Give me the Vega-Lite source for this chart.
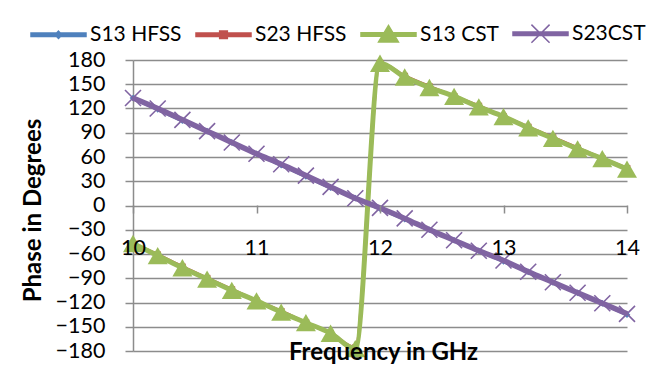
{
  "$schema": "https://vega.github.io/schema/vega-lite/v6.json",
  "width": 494,
  "height": 291,
  "autosize": {"type": "none"},
  "padding": {"left": 133, "top": 60, "right": 24, "bottom": 14},
  "background": "white",
  "config": {"view": {"stroke": null}, "font": "Lato"},
  "datasets": {
    "pts": [
      {"freq": 10.0, "series": "S13 CST", "phase": -47},
      {"freq": 10.2, "series": "S13 CST", "phase": -62},
      {"freq": 10.4, "series": "S13 CST", "phase": -77},
      {"freq": 10.6, "series": "S13 CST", "phase": -91},
      {"freq": 10.8, "series": "S13 CST", "phase": -105},
      {"freq": 11.0, "series": "S13 CST", "phase": -118},
      {"freq": 11.2, "series": "S13 CST", "phase": -132},
      {"freq": 11.4, "series": "S13 CST", "phase": -145},
      {"freq": 11.6, "series": "S13 CST", "phase": -158},
      {"freq": 11.8, "series": "S13 CST", "phase": -177},
      {"freq": 12.0, "series": "S13 CST", "phase": 176},
      {"freq": 12.2, "series": "S13 CST", "phase": 159},
      {"freq": 12.4, "series": "S13 CST", "phase": 146},
      {"freq": 12.6, "series": "S13 CST", "phase": 135},
      {"freq": 12.8, "series": "S13 CST", "phase": 122},
      {"freq": 13.0, "series": "S13 CST", "phase": 110},
      {"freq": 13.2, "series": "S13 CST", "phase": 96},
      {"freq": 13.4, "series": "S13 CST", "phase": 83},
      {"freq": 13.6, "series": "S13 CST", "phase": 70},
      {"freq": 13.8, "series": "S13 CST", "phase": 58},
      {"freq": 14.0, "series": "S13 CST", "phase": 45},
      {"freq": 10.0, "series": "S23 HFSS", "phase": -47},
      {"freq": 10.2, "series": "S23 HFSS", "phase": -61},
      {"freq": 10.4, "series": "S23 HFSS", "phase": -76},
      {"freq": 10.6, "series": "S23 HFSS", "phase": -90},
      {"freq": 10.8, "series": "S23 HFSS", "phase": -104},
      {"freq": 11.0, "series": "S23 HFSS", "phase": -118},
      {"freq": 11.2, "series": "S23 HFSS", "phase": -131},
      {"freq": 11.4, "series": "S23 HFSS", "phase": -145},
      {"freq": 11.6, "series": "S23 HFSS", "phase": -158},
      {"freq": 11.8, "series": "S23 HFSS", "phase": -176},
      {"freq": 12.0, "series": "S23 HFSS", "phase": 176},
      {"freq": 12.2, "series": "S23 HFSS", "phase": 160},
      {"freq": 12.4, "series": "S23 HFSS", "phase": 147},
      {"freq": 12.6, "series": "S23 HFSS", "phase": 135},
      {"freq": 12.8, "series": "S23 HFSS", "phase": 123},
      {"freq": 13.0, "series": "S23 HFSS", "phase": 110},
      {"freq": 13.2, "series": "S23 HFSS", "phase": 97},
      {"freq": 13.4, "series": "S23 HFSS", "phase": 84},
      {"freq": 13.6, "series": "S23 HFSS", "phase": 71},
      {"freq": 13.8, "series": "S23 HFSS", "phase": 58},
      {"freq": 14.0, "series": "S23 HFSS", "phase": 46},
      {"freq": 10.0, "series": "S23CST", "phase": 133},
      {"freq": 10.2, "series": "S23CST", "phase": 120},
      {"freq": 10.4, "series": "S23CST", "phase": 106},
      {"freq": 10.6, "series": "S23CST", "phase": 92},
      {"freq": 10.8, "series": "S23CST", "phase": 78},
      {"freq": 11.0, "series": "S23CST", "phase": 64},
      {"freq": 11.2, "series": "S23CST", "phase": 51},
      {"freq": 11.4, "series": "S23CST", "phase": 37},
      {"freq": 11.6, "series": "S23CST", "phase": 23},
      {"freq": 11.8, "series": "S23CST", "phase": 9},
      {"freq": 12.0, "series": "S23CST", "phase": -3},
      {"freq": 12.2, "series": "S23CST", "phase": -16},
      {"freq": 12.4, "series": "S23CST", "phase": -30},
      {"freq": 12.6, "series": "S23CST", "phase": -43},
      {"freq": 12.8, "series": "S23CST", "phase": -56},
      {"freq": 13.0, "series": "S23CST", "phase": -68},
      {"freq": 13.2, "series": "S23CST", "phase": -82},
      {"freq": 13.4, "series": "S23CST", "phase": -95},
      {"freq": 13.6, "series": "S23CST", "phase": -108},
      {"freq": 13.8, "series": "S23CST", "phase": -121},
      {"freq": 14.0, "series": "S23CST", "phase": -134},
      {"freq": 10.0, "series": "S13 HFSS", "phase": 133},
      {"freq": 10.2, "series": "S13 HFSS", "phase": 119},
      {"freq": 10.4, "series": "S13 HFSS", "phase": 105},
      {"freq": 10.6, "series": "S13 HFSS", "phase": 92},
      {"freq": 10.8, "series": "S13 HFSS", "phase": 78},
      {"freq": 11.0, "series": "S13 HFSS", "phase": 64},
      {"freq": 11.2, "series": "S13 HFSS", "phase": 50},
      {"freq": 11.4, "series": "S13 HFSS", "phase": 36},
      {"freq": 11.6, "series": "S13 HFSS", "phase": 22},
      {"freq": 11.8, "series": "S13 HFSS", "phase": 9},
      {"freq": 12.0, "series": "S13 HFSS", "phase": -4},
      {"freq": 12.2, "series": "S13 HFSS", "phase": -17},
      {"freq": 12.4, "series": "S13 HFSS", "phase": -30},
      {"freq": 12.6, "series": "S13 HFSS", "phase": -43},
      {"freq": 12.8, "series": "S13 HFSS", "phase": -56},
      {"freq": 13.0, "series": "S13 HFSS", "phase": -69},
      {"freq": 13.2, "series": "S13 HFSS", "phase": -82},
      {"freq": 13.4, "series": "S13 HFSS", "phase": -95},
      {"freq": 13.6, "series": "S13 HFSS", "phase": -108},
      {"freq": 13.8, "series": "S13 HFSS", "phase": -121},
      {"freq": 14.0, "series": "S13 HFSS", "phase": -135}
    ]
  },
  "data": {"name": "pts"},
  "encoding": {
    "x": {
      "field": "freq",
      "type": "quantitative",
      "scale": {"domain": [10, 14], "nice": false, "zero": false},
      "axis": {
        "orient": "bottom",
        "offset": -146,
        "values": [10, 11, 12, 13, 14],
        "format": "d",
        "grid": false,
        "zindex": 1,
        "domain": false,
        "tickColor": "#8c8c8c",
        "tickWidth": 1.5,
        "tickSize": 8,
        "labelFont": "Lato",
        "labelFontSize": 21.5,
        "labelColor": "black",
        "labelPadding": 35,
        "labelBaseline": "middle",
        "labelFlush": false,
        "labelOverlap": false,
        "title": "Frequency in GHz",
        "titleFont": "Lato",
        "titleFontSize": 24,
        "titleFontWeight": "bold",
        "titleColor": "black",
        "titleX": 250,
        "titleY": 147,
        "titleAlign": "center",
        "titleBaseline": "middle"
      }
    },
    "y": {
      "field": "phase",
      "type": "quantitative",
      "scale": {"domain": [-180, 180], "nice": false},
      "axis": {
        "values": [-180, -150, -120, -90, -60, -30, 0, 30, 60, 90, 120, 150, 180],
        "grid": true,
        "zindex": 0,
        "gridColor": "#8c8c8c",
        "gridWidth": 1.5,
        "domainColor": "#8c8c8c",
        "domainWidth": 1.5,
        "tickColor": "#8c8c8c",
        "tickWidth": 1.5,
        "tickSize": 8,
        "labelFont": "Lato",
        "labelFontSize": 21.5,
        "labelColor": "black",
        "labelPadding": 20,
        "labelBaseline": "middle",
        "labelFlush": false,
        "labelOverlap": false,
        "title": "Phase in Degrees",
        "titleFont": "Lato",
        "titleFontSize": 24,
        "titleFontWeight": "bold",
        "titleColor": "black",
        "titleAngle": -90,
        "titleX": -100,
        "titleY": 150,
        "titleAlign": "center",
        "titleBaseline": "middle"
      }
    },
    "color": {
      "field": "series",
      "type": "nominal",
      "scale": {
        "domain": ["S13 HFSS", "S23 HFSS", "S13 CST", "S23CST"],
        "range": ["#4F81BD", "#C0504D", "#9BBB59", "#8064A2"]
      },
      "legend": {
        "orient": "none",
        "direction": "horizontal",
        "legendX": -103,
        "legendY": -55,
        "title": null,
        "padding": 0,
        "columnPadding": 11,
        "labelOffset": 3,
        "labelFont": "Lato",
        "labelFontSize": 21,
        "labelColor": "black",
        "symbolSize": 3025,
        "symbolStrokeWidth": 1.5,
        "encode": {
          "symbols": {
            "update": {
              "shape": {"signal": "datum.value === 'S13 HFSS' ? 'M-1,-0.065H1V0.065H-1Z M0,-0.13L0.13,0L0,0.13L-0.13,0Z' : datum.value === 'S23 HFSS' ? 'M-1,-0.065H1V0.065H-1Z M-0.14,-0.14H0.14V0.14H-0.14Z' : datum.value === 'S13 CST' ? 'M-1,-0.065H1V0.065H-1Z M-0.36,0.27L0,-0.33L0.36,0.27Z' : 'M-1,-0.065H1V0.065H-1Z M-0.33,-0.33L0.33,0.33 M-0.33,0.33L0.33,-0.33'"},
              "fill": {"signal": "scale('color', datum.value)"},
              "stroke": {"signal": "scale('color', datum.value)"},
              "opacity": {"value": 1},
              "fillOpacity": {"value": 1}
            }
          }
        }
      }
    }
  },
  "layer": [
    {"transform": [{"filter": "datum.series === 'S13 HFSS'"}], "mark": {"type": "line", "interpolate": "monotone", "strokeWidth": 3.5}},
    {"transform": [{"filter": "datum.series === 'S13 HFSS'"}], "mark": {"type": "point", "shape": "diamond", "filled": true, "opacity": 1, "size": 45}},
    {"transform": [{"filter": "datum.series === 'S23 HFSS'"}], "mark": {"type": "line", "interpolate": "monotone", "strokeWidth": 3.5}},
    {"transform": [{"filter": "datum.series === 'S23 HFSS'"}], "mark": {"type": "point", "shape": "square", "filled": true, "opacity": 1, "size": 45}},
    {"transform": [{"filter": "datum.series === 'S13 CST'"}], "mark": {"type": "line", "interpolate": "monotone", "strokeWidth": 5}},
    {"transform": [{"filter": "datum.series === 'S13 CST'"}], "mark": {"type": "point", "shape": "triangle-up", "filled": true, "opacity": 1, "size": 400}},
    {"transform": [{"filter": "datum.series === 'S23CST'"}], "mark": {"type": "line", "interpolate": "monotone", "strokeWidth": 5.5}},
    {"transform": [{"filter": "datum.series === 'S23CST'"}], "mark": {"type": "point", "shape": "M-1,-1L1,1M-1,1L1,-1", "filled": false, "opacity": 1, "size": 256, "strokeWidth": 1.6}}
  ]
}
